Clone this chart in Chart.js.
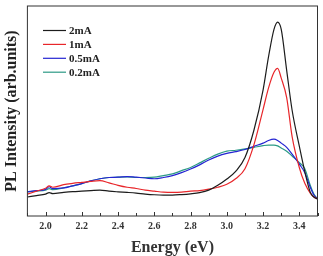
<!DOCTYPE html>
<html>
<head>
<meta charset="utf-8">
<script src="https://cdn.jsdelivr.net/npm/chart.js@4/dist/chart.umd.min.js"></script>
<style>
  html, body { margin: 0; padding: 0; background: #fff; }
  #wrap { width: 323px; height: 256px; }
</style>
</head>
<body>
<div id="wrap"><canvas id="plChart" width="323" height="256"></canvas></div>
<script>
// PL spectra at different currents
const energy = [1.90, 1.95, 2.00, 2.02, 2.04, 2.10, 2.15, 2.20, 2.25, 2.30, 2.35, 2.40, 2.45, 2.50, 2.55, 2.60, 2.65, 2.70, 2.75, 2.80,
  2.85, 2.90, 2.95, 3.00, 3.05, 3.10, 3.15, 3.20, 3.23, 3.26, 3.28, 3.30, 3.33, 3.36, 3.40, 3.43, 3.46, 3.48, 3.50];

const i2mA = [19.5, 21, 22.5, 24, 23, 24.2, 25, 25.5, 26, 26.5, 25.5, 24.8, 24.2, 23.5, 22.5, 21.8, 21.5, 21.5, 22, 22.8,
  24, 26.5, 31.5, 38, 46, 60, 88.5, 129.5, 163.5, 191.5, 199, 191.5, 149.5, 108.5, 71.5, 45.5, 24.5, 19.5, 17.5];

const i1mA = [22.5, 25.5, 28.5, 31, 29.5, 32.2, 33.5, 34.5, 35.5, 36.2, 34, 31.5, 29.5, 28.2, 26.5, 25.5, 24.5, 24.2, 24.5, 25.5,
  26, 27.5, 29.5, 32.5, 38.5, 48.5, 73.5, 109.5, 131.5, 147.5, 151.5, 141.5, 121.5, 81.5, 49.5, 33.5, 23.5, 19.5, 17.5];

const i05mA = [24.8, 26, 27.2, 30, 28, 28.8, 31, 33.2, 36, 38.2, 39.5, 39.8, 40.5, 39.8, 39, 38.2, 39.5, 41.5, 44.5, 48.2,
  52.5, 57.5, 61.5, 64.2, 66, 68.2, 71.5, 74.8, 77.5, 78.8, 77.5, 74.8, 70.5, 63.5, 53.2, 44.5, 29.5, 21.5, 17.5];

const i02mA = [24.8, 25.5, 26.5, 28, 27, 28.8, 31, 33.2, 36, 38.2, 39.5, 39.8, 40, 39.5, 39.5, 39.8, 41.5, 43.2, 46.5, 49.8,
  54.5, 59.2, 63.5, 66.5, 67.5, 68.8, 70.5, 72.2, 72.8, 72.8, 72, 69.8, 66.5, 61.5, 54.8, 48.5, 31.5, 22.5, 17.5];

const seriesLabels = ["2mA", "1mA", "0.5mA", "0.2mA"];
const seriesColors = ["#1c1c1c", "#e8262a", "#2424d2", "#2c9a86"];
const seriesData = [i2mA, i1mA, i05mA, i02mA];

const serif = "'Liberation Serif', 'DejaVu Serif', serif";

function toPoints(arr) {
  return arr.map((v, i) => ({ x: energy[i], y: v }));
}

// frame, inward ticks and legend
const framePlugin = {
  id: "frame",
  afterDraw(chart) {
    const ctx = chart.ctx;
    const a = chart.chartArea;
    const xs = chart.scales.x;
    ctx.save();
    ctx.strokeStyle = "#333";
    ctx.lineWidth = 1;
    ctx.strokeRect(a.left, a.top, a.right - a.left, a.bottom - a.top);
    xs.ticks.forEach(t => {
      const px = Math.round(xs.getPixelForValue(t.value)) + 0.5;
      const major = Math.round(t.value * 10) % 2 === 0;
      ctx.beginPath();
      ctx.moveTo(px, a.bottom);
      ctx.lineTo(px, a.bottom - (major ? 4 : 3));
      ctx.stroke();
    });
    // legend
    ctx.font = "bold 11px " + serif;
    ctx.textBaseline = "middle";
    chart.data.datasets.forEach((ds, i) => {
      const y = 30.5 + i * 13.9;
      ctx.strokeStyle = ds.borderColor;
      ctx.lineWidth = 1.2;
      ctx.beginPath();
      ctx.moveTo(43, y);
      ctx.lineTo(66, y);
      ctx.stroke();
      ctx.fillStyle = "#222";
      ctx.fillText(ds.label, 69, y + 0.5);
    });
    ctx.restore();
  }
};

const ctx = document.getElementById("plChart").getContext("2d");
const plChart = new Chart(ctx, {
  type: "line",
  data: {
    datasets: seriesLabels.map((lab, i) => ({
      label: lab,
      data: toPoints(seriesData[i]),
      borderColor: seriesColors[i],
      borderWidth: 1.2,
      pointRadius: 0,
      fill: false,
      cubicInterpolationMode: "monotone"
    }))
  },
  options: {
    responsive: false,
    animation: false,
    layout: { padding: { left: 0.7, right: 3.5, top: 6, bottom: 0.5 } },
    plugins: { legend: { display: false }, tooltip: { enabled: false } },
    scales: {
      x: {
        type: "linear",
        min: 1.9,
        max: 3.5,
        grid: { display: false, drawTicks: false },
        border: { display: false },
        ticks: {
          stepSize: 0.1,
          autoSkip: false,
          maxRotation: 0,
          padding: 5.5,
          color: "#333",
          font: { family: serif, size: 10, weight: "bold", lineHeight: 1 },
          callback: v => (Math.round(v * 10) % 2 === 0 ? v.toFixed(1) : "")
        },
        title: {
          display: true,
          text: "Energy (eV)",
          color: "#333",
          font: { family: serif, size: 16, weight: "bold", lineHeight: 1 },
          padding: { top: 2.5, bottom: 0 }
        }
      },
      y: {
        min: 0,
        max: 215.5,
        grid: { display: false, drawTicks: false },
        border: { display: false },
        ticks: { display: false },
        title: {
          display: true,
          text: "PL Intensity (arb.units)",
          color: "#222",
          font: { family: serif, size: 16, weight: "bold", lineHeight: 1.2 },
          padding: { top: 2, bottom: 5.5 }
        }
      }
    }
  },
  plugins: [framePlugin]
});
</script>
</body>
</html>
